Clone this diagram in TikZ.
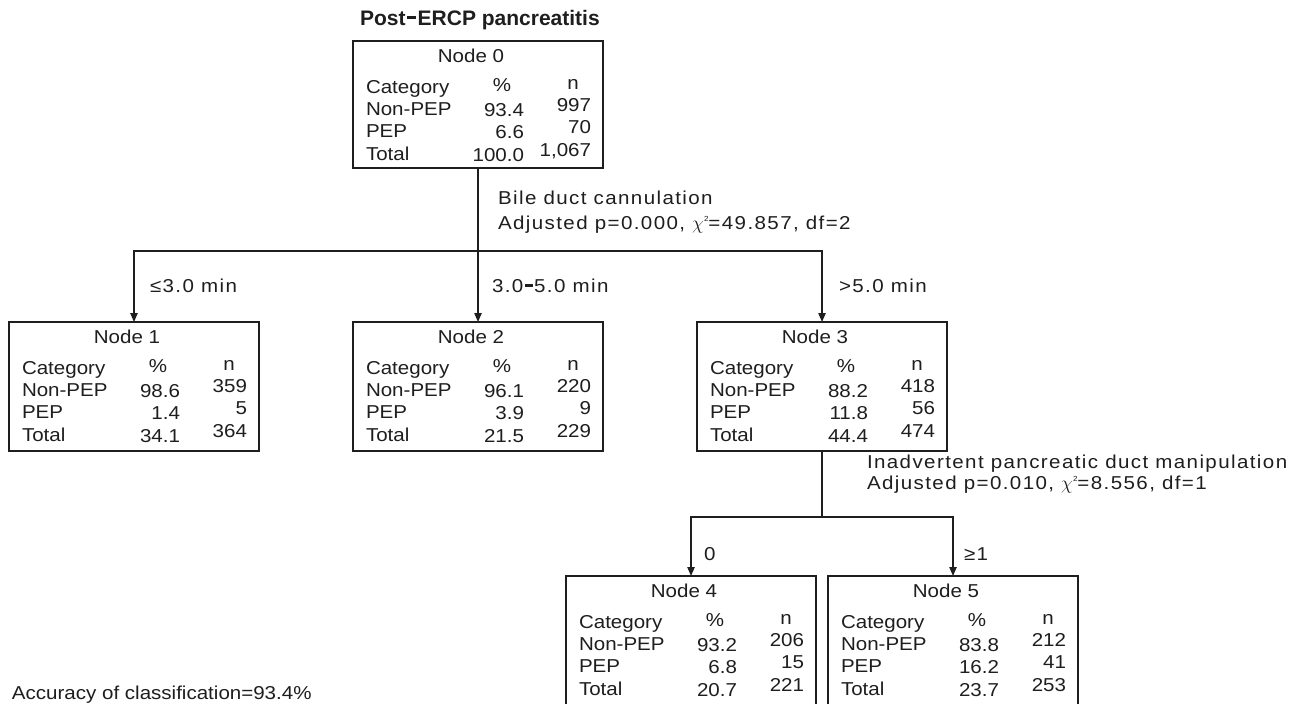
\documentclass[tikz,border=0pt]{standalone}
\usepackage{fontspec}
\setmainfont{Liberation Sans}
\newfontfamily\bxfont[FakeStretch=1.1]{Liberation Sans}
\newfontfamily\lbfont[FakeStretch=1.1,LetterSpace=7.5]{Liberation Sans}
\usetikzlibrary{arrows.meta,calc}
\definecolor{ink}{HTML}{1E1E1E}
\newcommand\chisq{$\chi$\raisebox{5.5pt}{\fontsize{5.5}{6}\selectfont 2}}
\newcommand\thickdash{\kern0.08em\rule[0.28em]{0.42em}{0.15em}\kern0.08em}
\tikzset{
  every node/.style={inner sep=0pt, outer sep=0pt, text=ink},
  treebx/.style={draw=ink, line width=0.9pt, minimum width=187.5pt, anchor=north west},
  txt/.style={font=\bxfont\fontsize{14}{16}\selectfont},
  lbl/.style={font=\lbfont\fontsize{14}{16}\selectfont, anchor=base west},
  conn/.style={draw=ink, line width=1pt},
  arr/.style={conn, -{Triangle[length=6.75pt,width=5.5pt]}},
}
\newcommand\treebox[5]{% name, left, top, height(px), number
  \node[treebx, minimum height=#4*0.75pt] (#1) at (#2,#3) {};
  \node[txt, anchor=base] (#1lab) at ($(#1.north west)+(118,21)$) {Node #5};
}
\newcommand\treerows[7]{% name, p1, n1, p2, n2, p3, n3
  \node[txt,anchor=base west] (#1r0) at ($(#1.north west)+(13,52)$) {Category};
  \node[txt,anchor=base west] (#1r1) at ($(#1.north west)+(13,74)$) {Non-PEP};
  \node[txt,anchor=base west] (#1r2) at ($(#1.north west)+(13,96)$) {PEP};
  \node[txt,anchor=base west] (#1r3) at ($(#1.north west)+(13,119)$) {Total};
  \node[txt,anchor=base] (#1p0) at ($(#1.north west)+(149,50)$) {\%};
  \node[txt,anchor=base east] (#1p1) at ($(#1.north west)+(171,75.5)$) {#2};
  \node[txt,anchor=base east] (#1p2) at ($(#1.north west)+(171,97.5)$) {#4};
  \node[txt,anchor=base east] (#1p3) at ($(#1.north west)+(171,120.5)$) {#6};
  \node[txt,anchor=base] (#1n0) at ($(#1.north west)+(220,48)$) {n};
  \node[txt,anchor=base east] (#1n1) at ($(#1.north west)+(238,70.5)$) {#3};
  \node[txt,anchor=base east] (#1n2) at ($(#1.north west)+(238,92.5)$) {#5};
  \node[txt,anchor=base east] (#1n3) at ($(#1.north west)+(238,115.5)$) {#7};
}
\begin{document}
\begin{tikzpicture}[x=0.75pt,y=-0.75pt]
\useasboundingbox (0,0) rectangle (1301,703);
\fill[white] (0,0) rectangle (1301,703);
\clip (0,0) rectangle (1301,703);

\node[font=\bfseries\fontsize{15.75}{18}\selectfont, anchor=base west] (title) at (360,25) {Post\thickdash ERCP pancreatitis};

\treebox{n0}{353}{41}{127}{0}
\treerows{n0}{93.4}{997}{6.6}{70}{100.0}{1,067}
\treebox{n1}{9}{322}{129}{1}
\treerows{n1}{98.6}{359}{1.4}{5}{34.1}{364}
\treebox{n2}{353}{322}{129}{2}
\treerows{n2}{96.1}{220}{3.9}{9}{21.5}{229}
\treebox{n3}{697}{322}{129}{3}
\treerows{n3}{88.2}{418}{11.8}{56}{44.4}{474}
\treebox{n4}{566}{576}{132}{4}
\treerows{n4}{93.2}{206}{6.8}{15}{20.7}{221}
\treebox{n5}{828}{576}{132}{5}
\treerows{n5}{83.8}{212}{16.2}{41}{23.7}{253}

\coordinate (j0) at (478,251);
\coordinate (j3) at (822,517);
\draw[conn] (n0.south) -- (j0);
\draw[arr] (j0) -| (n1.north);
\draw[arr] (j0) -- (n2.north);
\draw[arr] (j0) -| (n3.north);
\draw[conn] (n3.south) -- (j3);
\draw[arr] (j3) -| (n4.north);
\draw[arr] (j3) -| (n5.north);

\node[lbl] (s0a) at (498,204) {Bile duct cannulation};
\node[lbl] (s0b) at (498,229) {Adjusted p=0.000, \chisq=49.857, df=2};
\node[lbl] (e1) at (150,292) {≤3.0 min};
\node[lbl] (e2) at (492,292) {3.0\thickdash 5.0 min};
\node[lbl] (e3) at (839,292) {>5.0 min};
\node[lbl] (s3a) at (867,468) {Inadvertent pancreatic duct manipulation};
\node[lbl] (s3b) at (867,489) {Adjusted p=0.010, \chisq=8.556, df=1};
\node[lbl] (e4) at (704,560) {0};
\node[lbl] (e5) at (964,560) {≥1};
\node[txt, anchor=base west] (acc) at (12,699) {Accuracy of classification=93.4\%};
\end{tikzpicture}
\end{document}
